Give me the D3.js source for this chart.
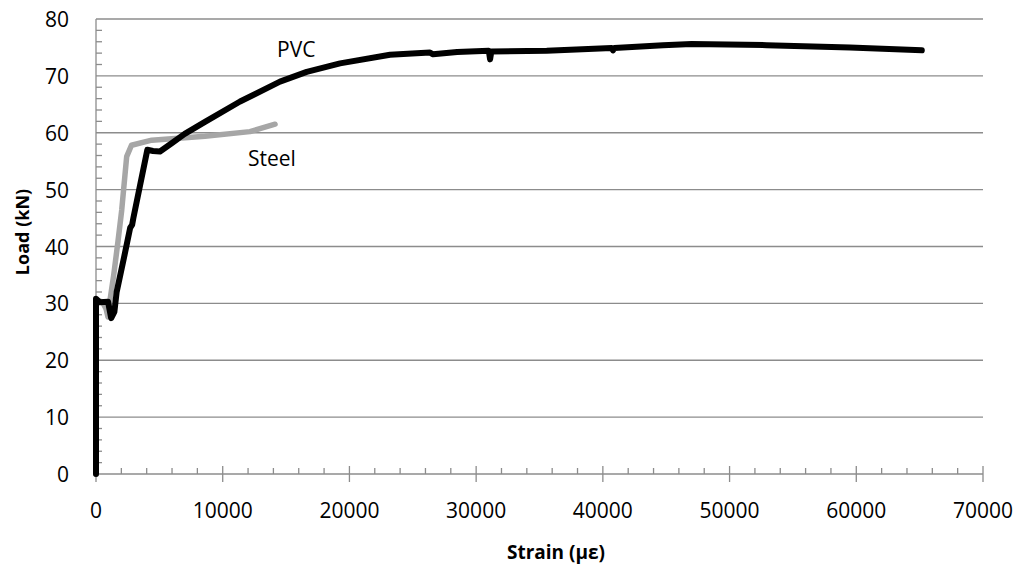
<!DOCTYPE html>
<html>
<head>
<meta charset="utf-8">
<script src="https://cdn.jsdelivr.net/npm/d3@7"></script>
<style>
  body { margin: 0; background: #fff; }
  svg { display: block; font-family: "Open Sans", sans-serif; }
</style>
</head>
<body>
<svg class="canvas"></svg>
<script>
// data: strain (micro-strain) vs load (kN)
const pvcStrain = [0, 0, 300, 950, 1200, 1450, 1630, 2300, 2700, 2850, 2950, 3500, 4050, 4500, 5050, 6000, 7000, 8600,
	11370, 14520, 16630, 19260, 23200, 26360, 26600, 28500, 31000, 31100, 31200, 35570, 40700, 40800, 40900,
	44750, 47000, 52930, 59500, 65170];
const pvcLoad = [0, 30.8, 30.2, 30.3, 27.4, 28.5, 32, 39, 43.3, 43.8, 45, 51, 57, 56.8, 56.7, 58.2, 59.8, 61.9,
	65.5, 69, 70.7, 72.2, 73.7, 74.1, 73.8, 74.2, 74.4, 72.9, 74.3, 74.4, 74.9, 74.5, 74.9,
	75.4, 75.6, 75.4, 75.0, 74.5];

const steelStrain = [0, 0, 500, 800, 950, 1100, 1400, 1740, 2030, 2420, 2800, 4400, 8600, 12150, 14130];
const steelLoad = [0, 30.5, 30.3, 29, 27.6, 30.5, 35, 41, 46.4, 55.8, 57.8, 58.7, 59.4, 60.2, 61.5];

const xTicks = [0, 10000, 20000, 30000, 40000, 50000, 60000, 70000];
const yTicks = [0, 10, 20, 30, 40, 50, 60, 70, 80];

const width = 1022;
const height = 568;

const svg = d3.select('.canvas')
	.attr('width', width)
	.attr('height', height);

const x = d3.scaleLinear().domain([0, 70000]).range([96, 983]);
const y = d3.scaleLinear().domain([0, 80]).range([474, 19]);

const axisColor = '#8c8c8c';

// gridlines
svg.selectAll('.grid')
	.data(yTicks.filter(d => d > 0))
	.join('line')
	.attr('x1', x(0)).attr('x2', x(70000))
	.attr('y1', d => y(d)).attr('y2', d => y(d))
	.attr('stroke', axisColor)
	.attr('stroke-width', 1.3);

// minor ticks
const xMinor = d3.range(0, 70001, 2000).filter(d => d % 10000 != 0);
svg.selectAll('.xminor')
	.data(xMinor)
	.join('line')
	.attr('x1', d => x(d)).attr('x2', d => x(d))
	.attr('y1', y(0)).attr('y2', y(0) - 6)
	.attr('stroke', axisColor)
	.attr('stroke-width', 1.3);

const yMinor = d3.range(0, 81, 2).filter(d => d % 10 != 0);
svg.selectAll('.yminor')
	.data(yMinor)
	.join('line')
	.attr('x1', x(0)).attr('x2', x(0) + 6)
	.attr('y1', d => y(d)).attr('y2', d => y(d))
	.attr('stroke', axisColor)
	.attr('stroke-width', 1.3);

// major x ticks (cross the axis)
svg.selectAll('.xmajor')
	.data(xTicks)
	.join('line')
	.attr('x1', d => x(d)).attr('x2', d => x(d))
	.attr('y1', y(0) - 8).attr('y2', y(0) + 8)
	.attr('stroke', axisColor)
	.attr('stroke-width', 1.3);

// axis lines
svg.append('line')
	.attr('x1', x(0)).attr('x2', x(70000))
	.attr('y1', y(0)).attr('y2', y(0))
	.attr('stroke', axisColor).attr('stroke-width', 1.3);
svg.append('line')
	.attr('x1', x(0)).attr('x2', x(0))
	.attr('y1', y(0)).attr('y2', y(80))
	.attr('stroke', axisColor).attr('stroke-width', 1.3);

// tick labels
svg.selectAll('.xlabel')
	.data(xTicks)
	.join('text')
	.attr('x', d => x(d))
	.attr('y', 510)
	.attr('text-anchor', 'middle')
	.attr('dominant-baseline', 'central')
	.style('font-size', '21px')
	.attr('fill', '#000')
	.text(d => d);

svg.selectAll('.ylabel')
	.data(yTicks)
	.join('text')
	.attr('x', 69)
	.attr('y', d => y(d))
	.attr('text-anchor', 'end')
	.attr('dominant-baseline', 'central')
	.style('font-size', '21px')
	.attr('fill', '#000')
	.text(d => d);

// axis titles
svg.append('text')
	.attr('x', 556)
	.attr('y', 552)
	.attr('text-anchor', 'middle')
	.attr('dominant-baseline', 'central')
	.style('font-size', '19px')
	.style('font-weight', 'bold')
	.text('Strain (με)');

svg.append('text')
	.attr('transform', 'translate(22,232) rotate(-90)')
	.attr('text-anchor', 'middle')
	.attr('dominant-baseline', 'central')
	.style('font-size', '18px')
	.style('font-weight', 'bold')
	.text('Load (kN)');

// curves
const line = d3.line()
	.x(d => x(d[0]))
	.y(d => y(d[1]));

svg.append('path')
	.datum(d3.zip(steelStrain, steelLoad))
	.attr('d', line)
	.attr('fill', 'none')
	.attr('stroke', '#a6a6a6')
	.attr('stroke-width', 5.5)
	.attr('stroke-linejoin', 'round')
	.attr('stroke-linecap', 'round');

svg.append('path')
	.datum(d3.zip(pvcStrain, pvcLoad))
	.attr('d', line)
	.attr('fill', 'none')
	.attr('stroke', '#000')
	.attr('stroke-width', 6)
	.attr('stroke-linejoin', 'round')
	.attr('stroke-linecap', 'round');

// series labels
svg.append('text')
	.attr('x', 277).attr('y', 49)
	.attr('dominant-baseline', 'central')
	.style('font-size', '21px')
	.text('PVC');

svg.append('text')
	.attr('x', 248).attr('y', 158)
	.attr('dominant-baseline', 'central')
	.style('font-size', '21px')
	.text('Steel');
</script>
</body>
</html>
